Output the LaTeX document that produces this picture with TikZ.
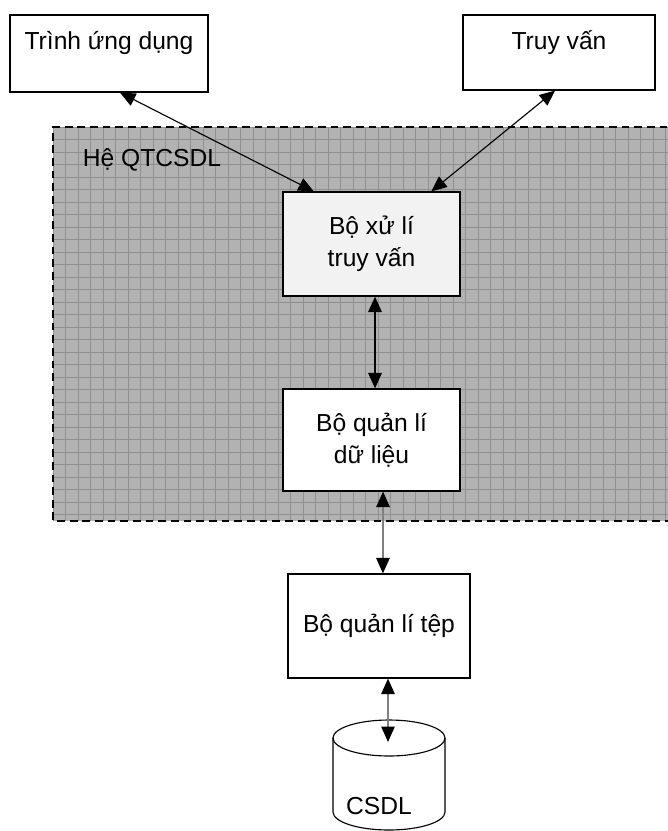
\documentclass[tikz,border=0pt]{standalone}
\usepackage{fontspec}
\setmainfont{Liberation Sans}
\usetikzlibrary{arrows.meta,positioning,calc}

\begin{document}
\begin{tikzpicture}[
  x=0.025cm,y=-0.025cm,
  box/.style={draw, line width=0.8pt, fill=white, align=center, font=\fontsize{17.5}{23}\selectfont, inner sep=0pt},
  arr/.style={{Triangle[length=11pt,width=9.5pt]}-{Triangle[length=11pt,width=9.5pt]}, line width=0.8pt},
  greyarr/.style={draw=black!50, line width=1.2pt, {Triangle[length=11pt,width=9.5pt,color=black]}-{Triangle[length=11pt,width=9.5pt,color=black]}}
]
\useasboundingbox (0,0) rectangle (668,831);
% shaded system region
\fill[black!30] (53,127) rectangle (668,521);
\begin{scope}
  \clip (53,127) rectangle (668,521);
  \foreach \gx in {0,...,50} \draw[black!44, line width=0.6pt] (53+12.5*\gx,127) -- (53+12.5*\gx,521);
  \foreach \gy in {0,...,32} \draw[black!44, line width=0.6pt] (53,127+12.5*\gy) -- (668,127+12.5*\gy);
\end{scope}
\draw[dashed, dash pattern=on 5.5pt off 3.5pt, line width=1pt] (680,127) -- (53,127) -- (53,521) -- (680,521);
\node[font=\fontsize{17.5}{23}\selectfont] (dbmslbl) at (152,160) {Hệ QTCSDL};

\node[box, minimum width=4.95cm, minimum height=1.925cm, text depth=18pt] (app) at (109,53.5) {Trình ứng dụng};
\node[box, minimum width=4.8cm, minimum height=1.875cm, text depth=18pt] (query) at (559,52.5) {Truy vấn};
\node[box, fill=black!5, minimum width=4.425cm, minimum height=2.6cm] (qp) at (371.5,244) {Bộ xử lí\\truy vấn};
\node[box, minimum width=4.425cm, minimum height=2.55cm] (dm) at (371.5,440) {Bộ quản lí\\dữ liệu};
\node[box, minimum width=4.55cm, minimum height=2.6cm] (fm) at (379,626) {Bộ quản lí tệp};

% database cylinder
\draw[line width=0.8pt, fill=white] (333,738) -- (333,812) arc[start angle=180, end angle=0, x radius=56, y radius=18] -- (445,738);
\draw[line width=0.8pt] (389,738) ellipse[x radius=56, y radius=18];
\node[font=\fontsize{17.5}{23}\selectfont] (db) at (379,806) {CSDL};
\coordinate (dbtop) at (388,742);

\draw[arr] ([xshift=7.8pt]app.south) -- ([xshift=-41pt]qp.north);
\draw[arr] ([xshift=-2.8pt]query.south) -- ([xshift=42.5pt]qp.north);
\draw[arr, line width=1.4pt] ([xshift=2.5pt]qp.south) -- ([xshift=2.5pt]dm.north);
\draw[greyarr] ([xshift=8.2pt]dm.south) -- ([xshift=2.8pt]fm.north);
\draw[greyarr] ([xshift=6.4pt]fm.south) -- (dbtop);
\end{tikzpicture}
\end{document}
